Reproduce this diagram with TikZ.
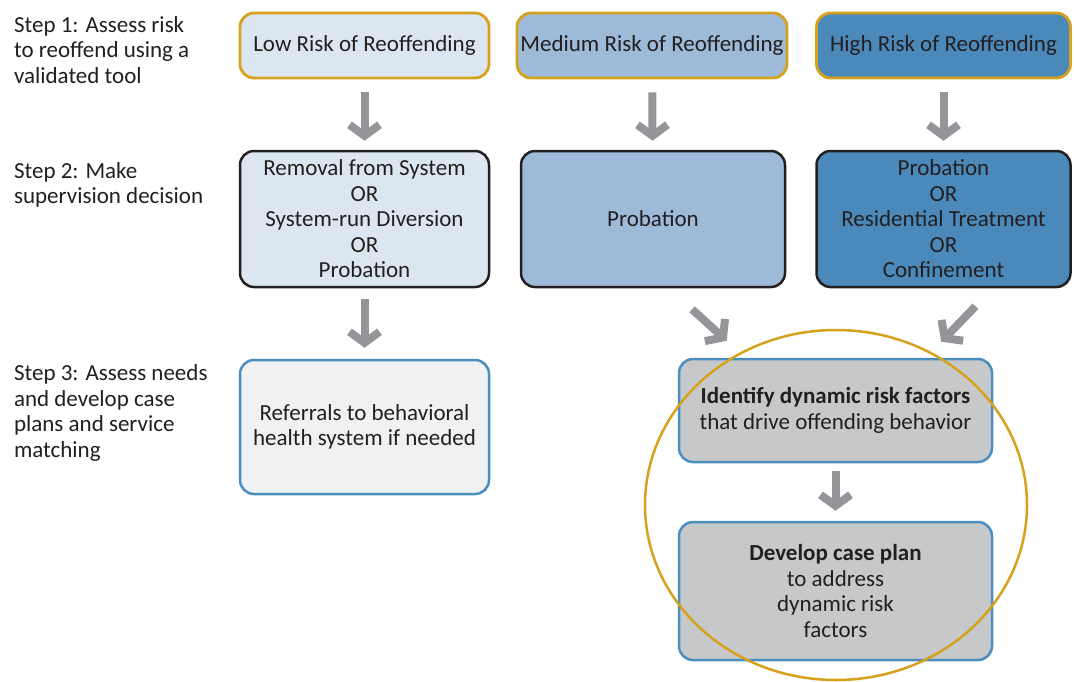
\documentclass[tikz,border=0pt]{standalone}
\usepackage{fontspec}
\setmainfont{Carlito}
\usetikzlibrary{arrows.meta}
\definecolor{gold}{HTML}{D6A21E}
\definecolor{paleblue}{HTML}{DCE6F1}
\definecolor{midblue}{HTML}{9DBAD9}
\definecolor{deepblue}{HTML}{4A89BA}
\definecolor{edgeblue}{HTML}{4A8DC0}
\definecolor{palegray}{HTML}{EFF1F3}
\definecolor{boxgray}{HTML}{C7C8CA}
\definecolor{arrowgray}{HTML}{939598}
\definecolor{ink}{HTML}{231F20}
\begin{document}
\begin{tikzpicture}[x=1pt,y=-1pt]
  \tikzset{font={\fontsize{23pt}{25.5pt}\selectfont},
    every node/.style={text=ink,align=center},
    riskbox/.style={draw=gold,line width=2.8pt,rounded corners=14pt,minimum height=65pt},
    choicebox/.style={draw=ink,line width=2.5pt,rounded corners=14pt,minimum height=136pt},
    needbox/.style={draw=edgeblue,line width=2.5pt,rounded corners=14pt},
    steplabel/.style={anchor=west,align=left},
    bigarrow/.style={arrowgray,line width=8pt,-{Straight Barb[length=11pt,width=30pt]}}}
  \useasboundingbox (0,0) rectangle (1074,681);
  % step labels
  \node[steplabel] (step1) at (10.5,50) {Step 1: Assess risk\\to reoffend using a\\validated tool};
  \node[steplabel] (step2) at (10.5,185) {Step 2: Make\\supervision decision};
  \node[steplabel] (step3) at (10.5,413) {Step 3: Assess needs\\and develop case\\plans and service\\matching};
  % step 1
  \node[riskbox,fill=paleblue,minimum width=249pt] (low1) at (364.5,45.5) {Low Risk of Reoffending};
  \node[riskbox,fill=midblue,minimum width=266pt] (med1) at (652,45.5) {Medium Risk of Reoffending};
  \node[riskbox,fill=deepblue,minimum width=254pt] (high1) at (943.5,45.5) {High Risk of Reoffending};
  % step 2
  \node[choicebox,fill=paleblue,minimum width=249pt] (low2) at (364.5,219) {Removal from System\\OR\\System-run Diversion\\OR\\Probation};
  \node[choicebox,fill=midblue,minimum width=264pt] (med2) at (653,219) {Probation};
  \node[choicebox,fill=deepblue,minimum width=254pt] (high2) at (943.5,219) {Probation\\OR\\Residential Treatment\\OR\\Confinement};
  % step 3
  \node[needbox,fill=palegray,minimum width=249pt,minimum height=134pt] (low3) at (364.5,427) {Referrals to behavioral\\health system if needed};
  \node[needbox,fill=boxgray,minimum width=313pt,minimum height=103pt] (ident) at (835.5,410.5) {\textbf{Identify dynamic risk factors}\\that drive offending behavior};
  \node[needbox,fill=boxgray,minimum width=313pt,minimum height=138pt] (dev) at (835.5,591) {\textbf{Develop case plan}\\to address\\dynamic risk\\factors};
  \draw[gold,line width=2.5pt] (836,505) ellipse [x radius=191,y radius=175];
  % arrows
  \draw[bigarrow,shorten <=13pt,shorten >=9pt] (low1) -- (low2);
  \draw[bigarrow,shorten <=13pt,shorten >=9pt] (med1) -- (med2);
  \draw[bigarrow,shorten <=13pt,shorten >=9pt] (high1) -- (high2);
  \draw[bigarrow,shorten <=11pt,shorten >=11pt] (low2) -- (low3);
  \draw[bigarrow] ([shift={(39,21)}]med2.south) -- ([shift={(49,-17)}]ident.north west);
  \draw[bigarrow] ([shift={(32,18)}]high2.south) -- ([shift={(-52,-16)}]ident.north east);
  \draw[bigarrow,shorten <=8pt,shorten >=10pt] (ident) -- (dev);
\end{tikzpicture}
\end{document}
